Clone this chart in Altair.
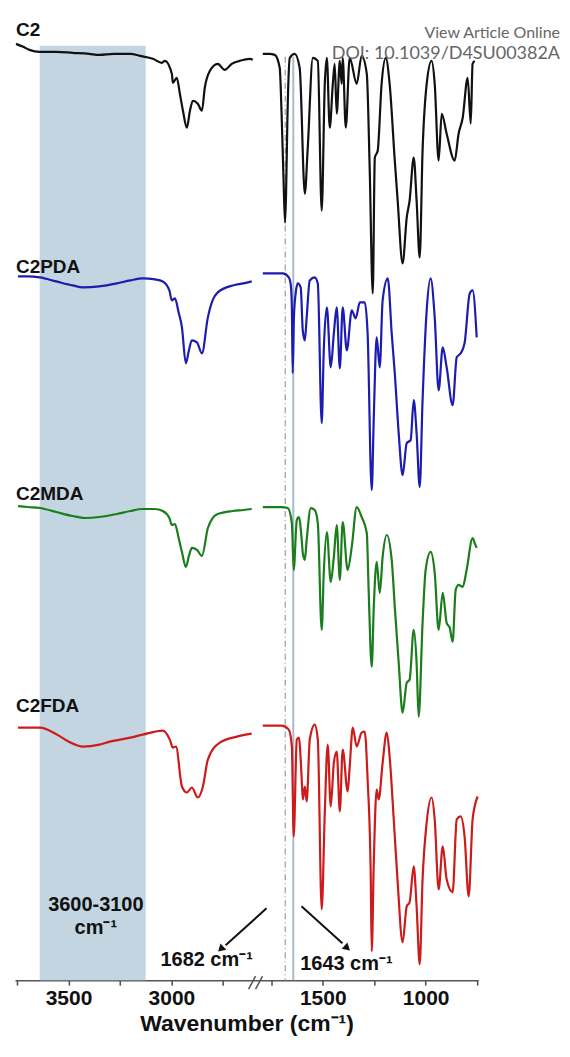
import altair as alt
import pandas as pd

# ---------------- data ----------------
series_names = ["C2", "C2PDA", "C2MDA", "C2FDA"]
series_colors = ["#111111", "#1c1cb0", "#1b7d1b", "#cc1b1b"]
series_offsets = [829, 604, 373, 154]   # vertical stacking offsets (a.u.)

# C2
c2_left_wn = [3755, 3720, 3690, 3640, 3560, 3480, 3400, 3350, 3280, 3200, 3153, 3090, 3046, 3032,
              2998, 2993, 2974, 2959, 2944, 2925, 2910, 2896, 2872, 2852, 2838, 2813, 2775, 2741,
              2707, 2668, 2619, 2605]
c2_left_t = [109, 106, 103, 101, 101, 100, 99, 98, 99, 99, 97, 94, 90, 92,
             79, 70, 75, 59, 42, 25, 42, 52, 49, 42, 65, 82, 89, 83,
             89, 92, 94, 93]
c2_right_wn = [1791, 1760, 1733, 1709, 1700, 1690, 1683, 1678, 1672, 1660, 1636, 1612, 1587, 1573,
               1548, 1524, 1505, 1490, 1480, 1466, 1451, 1442, 1432, 1417, 1408, 1403, 1388, 1369,
               1335, 1311, 1286, 1272, 1257, 1247, 1233, 1214, 1194, 1175, 1150, 1136, 1112, 1092,
               1078, 1058, 1044, 1029, 1015, 995, 971, 956, 937, 922, 898, 859, 840, 820, 796, 781,
               772, 762]
c2_right_t = [99, 99, 98, 85, 40, -30, -70, -40, 30, 95, 99, 85, -41, 4,
              95, 92, -58, 69, 95, 25, 69, 89, 39, 92, 69, 95, 25, 95,
              69, 97, 79, -15, -141, -5, 2, 69, 95, 69, -8, -48, -111, -65,
              -48, -5, -48, -105, 2, 69, 92, 69, -8, 39, 19, -8, 19, 35, 75, 29,
              89, 92]

# C2PDA
pda_left_wn = [3745, 3700, 3639, 3560, 3480, 3430, 3350, 3265, 3200, 3139, 3080, 3042, 3010, 2998,
               2983, 2965, 2949, 2930, 2915, 2901, 2876, 2852, 2823, 2800, 2775, 2702, 2650, 2610]
pda_left_t = [101, 101, 100, 96, 92, 90, 91, 94, 97, 99, 98, 96, 87, 77,
              79, 65, 50, 14, 27, 37, 35, 24, 60, 77, 85, 92, 94, 96]
pda_right_wn = [1791, 1740, 1694, 1665, 1655, 1650, 1646, 1640, 1631, 1621, 1607, 1597, 1587, 1578,
                1563, 1539, 1524, 1505, 1495, 1480, 1461, 1446, 1432, 1417, 1403, 1383, 1359, 1340,
                1320, 1296, 1282, 1262, 1252, 1238, 1223, 1209, 1184, 1165, 1150, 1131, 1112, 1092,
                1073, 1058, 1044, 1029, 1015, 995, 976, 956, 937, 917, 898, 869, 849, 830, 811, 786,
                772, 752]
pda_right_t = [104, 104, 104, 100, 92, 70, 4, 60, 85, 94, 90, 47, 37, 60,
               97, 100, 94, -46, 27, 70, 10, 44, 70, 9, 70, 27, 67, 59,
               75, 75, 44, -113, -40, 40, 10, 77, 99, 44, 4, -56, -98, -66,
               -63, -23, -56, -110, -23, 67, 99, 60, -13, 30, 10, -28, 20, 24, 34, 84,
               87, 40]

# C2MDA
mda_left_wn = [3745, 3700, 3639, 3560, 3480, 3420, 3350, 3265, 3200, 3139, 3080, 3042, 3010, 2998,
               2983, 2965, 2949, 2930, 2915, 2901, 2876, 2852, 2823, 2800, 2775, 2702, 2650, 2610]
mda_left_t = [102, 101, 100, 96, 92, 90, 91, 94, 97, 99, 99, 97, 90, 83,
              84, 70, 56, 41, 52, 60, 58, 52, 80, 90, 94, 97, 98, 99]
mda_right_wn = [1791, 1740, 1700, 1670, 1650, 1641, 1626, 1616, 1602, 1597, 1587, 1578, 1558, 1539,
                1524, 1505, 1495, 1480, 1461, 1446, 1432, 1417, 1403, 1379, 1359, 1335, 1311, 1286,
                1277, 1262, 1252, 1238, 1223, 1209, 1189, 1165, 1150, 1131, 1112, 1092, 1078, 1058,
                1044, 1034, 1015, 1000, 976, 956, 937, 917, 898, 883, 869, 854, 840, 820, 801, 772,
                762, 752]
mda_right_t = [101, 101, 101, 100, 85, 38, 88, 91, 68, 55, 48, 68, 100, 98,
               85, -22, 35, 76, 26, 51, 83, 28, 86, 38, 61, 101, 91, 75,
               18, -59, 1, 46, 15, 51, 73, 48, 1, -55, -105, -75, -72, -22,
               -55, -109, -15, 38, 56, 35, -22, 15, -15, -20, -34, 18, 23, 21, 38, 70,
               65, 60]

# C2FDA
fda_left_wn = [3745, 3700, 3639, 3556, 3500, 3430, 3350, 3299, 3200, 3139, 3042, 3008, 2993, 2978,
               2949, 2925, 2901, 2872, 2847, 2823, 2765, 2682, 2610]
fda_left_t = [99, 99, 99, 92, 85, 80, 82, 85, 89, 92, 96, 87, 79, 80,
              40, 34, 39, 29, 40, 67, 84, 90, 93]
fda_right_wn = [1791, 1740, 1699, 1665, 1650, 1641, 1626, 1616, 1602, 1597, 1587, 1578, 1563, 1539,
                1524, 1505, 1490, 1476, 1461, 1446, 1432, 1417, 1403, 1379, 1369, 1354, 1335, 1311,
                1296, 1282, 1267, 1262, 1252, 1238, 1228, 1209, 1189, 1175, 1155, 1136, 1112, 1092,
                1078, 1058, 1044, 1029, 1015, 995, 971, 956, 937, 917, 898, 869, 849, 830, 811, 791,
                772, 762, 748]
fda_right_t = [101, 101, 101, 97, 80, -10, 87, 89, 47, 27, 40, 25, 87, 102,
               87, -83, 14, 82, 20, 64, 75, 15, 77, 35, 60, 99, 80, 94,
               95, 47, -46, -125, -36, 37, 27, 64, 94, 70, 7, -56, -116, -80,
               -76, -40, -80, -138, -53, 4, 29, 7, -63, -20, -53, -66, 7, 10, -10, -70,
               7, 20, 30]

# annotations
band_wn = [3640, 3125]           # shaded O-H region as drawn
marker_dashdot_wn = [1682]
marker_solid_wn = [1643]
tick_wn = [3750, 3500, 3250, 3000, 2750, 1750, 1500, 1250, 1000, 750]

# ---------------- broken-axis mapping ----------------
LEFT_REF = 3760    # pos = LEFT_REF - wn   (3760 .. 2600)
RIGHT_REF = 2995   # pos = RIGHT_REF - wn  (1800 .. 745)
POS_EXPR = f"datum.wn > 2200 ? {LEFT_REF} - datum.wn : {RIGHT_REF} - datum.wn"


def to_pos(w):
    return LEFT_REF - w if w > 2200 else RIGHT_REF - w


tick_pos = [to_pos(w) for w in tick_wn]

rows = []
spectra = {
    "C2": [(c2_left_wn, c2_left_t), (c2_right_wn, c2_right_t)],
    "C2PDA": [(pda_left_wn, pda_left_t), (pda_right_wn, pda_right_t)],
    "C2MDA": [(mda_left_wn, mda_left_t), (mda_right_wn, mda_right_t)],
    "C2FDA": [(fda_left_wn, fda_left_t), (fda_right_wn, fda_right_t)],
}
for name, off in zip(series_names, series_offsets):
    for k, (wns, ts) in enumerate(spectra[name]):
        for w, t in zip(wns, ts):
            rows.append({"series": name, "seg": f"{name}-{k}", "wn": w, "t": t, "offset": off})
df = pd.DataFrame(rows)

W, H = 464, 961
FONT = "Liberation Sans"
xs = alt.Scale(domain=[0, 2250], nice=False, zero=False)
ys = alt.Scale(domain=[0, 961], nice=False, zero=False)

label_expr = (
    f"(datum.value < 1200 ? {LEFT_REF} - datum.value : {RIGHT_REF} - datum.value) % 500 == 0 ? "
    f"toString(datum.value < 1200 ? {LEFT_REF} - datum.value : {RIGHT_REF} - datum.value) : ''"
)

x_axis = alt.Axis(
    values=tick_pos, labelExpr=label_expr, title="Wavenumber (cm⁻¹)", grid=False,
    domainColor="#555555", domainWidth=1.6, tickColor="#555555", tickWidth=1.6, tickSize=5,
    labelFont=FONT, labelFontSize=21, labelFontWeight="bold", labelColor="#111111",
    labelPadding=2, labelFlush=False, labelOverlap=False,
    titleFont=FONT, titleFontSize=23, titleFontWeight="bold", titleColor="#111111",
    titlePadding=4,
)


def xenc():
    return alt.X("pos:Q", scale=xs, axis=x_axis)


band = alt.Chart(pd.DataFrame({"wn": [band_wn[0]], "wn2": [band_wn[1]]})).transform_calculate(
    pos=POS_EXPR, pos2=f"{LEFT_REF} - datum.wn2"
).mark_rect(color="#c3d5e0").encode(
    x=xenc(), x2="pos2:Q",
    y=alt.value(25), y2=alt.value(H),
)

line_dd = alt.Chart(pd.DataFrame({"wn": marker_dashdot_wn})).transform_calculate(
    pos=POS_EXPR
).mark_rule(color="#aaaaaa", strokeWidth=1.4, strokeDash=[6, 3, 1, 3]).encode(
    x=xenc(), y=alt.value(36), y2=alt.value(H)
)
line_solid = alt.Chart(pd.DataFrame({"wn": marker_solid_wn})).transform_calculate(
    pos=POS_EXPR
).mark_rule(color="#a8bcc6", strokeWidth=2).encode(
    x=xenc(), y=alt.value(36), y2=alt.value(H)
)

lines = alt.Chart(df).transform_calculate(
    pos=POS_EXPR, yv="datum.t + datum.offset"
).mark_line(strokeWidth=2.2, strokeJoin="round", interpolate="monotone").encode(
    x=xenc(),
    y=alt.Y("yv:Q", scale=ys, axis=None),
    color=alt.Color("series:N", scale=alt.Scale(domain=series_names, range=series_colors), legend=None),
    detail="seg:N",
)

one = pd.DataFrame({"k": [0]})


def txt(s, x, y, size=19, align="left", color="#111111", weight="bold", font=FONT):
    return alt.Chart(one).mark_text(
        text=s, align=align, baseline="alphabetic", fontSize=size, fontWeight=weight,
        font=font, color=color
    ).encode(x=alt.value(x), y=alt.value(y))


def seg(x1, y1, x2, y2, color="#111111", width=2):
    return alt.Chart(one).mark_rule(color=color, strokeWidth=width).encode(
        x=alt.value(x1), y=alt.value(y1), x2=alt.value(x2), y2=alt.value(y2)
    )


def head(x, y, angle):
    return alt.Chart(one).mark_point(
        shape="triangle", filled=True, color="#111111", size=70, angle=angle, opacity=1
    ).encode(x=alt.value(x), y=alt.value(y))


annotations = [
    txt("C2", 1, 15), txt("C2PDA", 1, 253), txt("C2MDA", 1, 480), txt("C2FDA", 1, 692),
    txt("3600-3100", 81, 892, size=20, align="center"),
    txt("cm⁻¹", 81, 915, size=20, align="center"),
    txt("1682 cm⁻¹", 192, 947, size=20, align="center"),
    txt("1643 cm⁻¹", 332, 951, size=20, align="center"),
    seg(252, 889, 211, 926), head(207, 929, 227),
    seg(287, 887, 328, 924), head(332, 928, 132),
    seg(234, 970, 241, 957, color="#555555", width=1.5),
    seg(241, 970, 248, 957, color="#555555", width=1.5),
    txt("View Article Online", 546, 17, size=16, align="right", color="#666666",
        weight="normal", font="Lato"),
    txt("DOI: 10.1039/D4SU00382A", 546, 38, size=18, align="right", color="#666666",
        weight="normal", font="Lato"),
]

chart = alt.layer(band, line_dd, line_solid, lines, *annotations).properties(
    width=W, height=H,
    padding={"left": 7, "top": 12, "right": 84, "bottom": 58},
    autosize=alt.AutoSizeParams(type="none"),
    background="white",
).configure_view(stroke=None)

chart.save("out.html", embed_options={"renderer": "svg", "actions": False})
